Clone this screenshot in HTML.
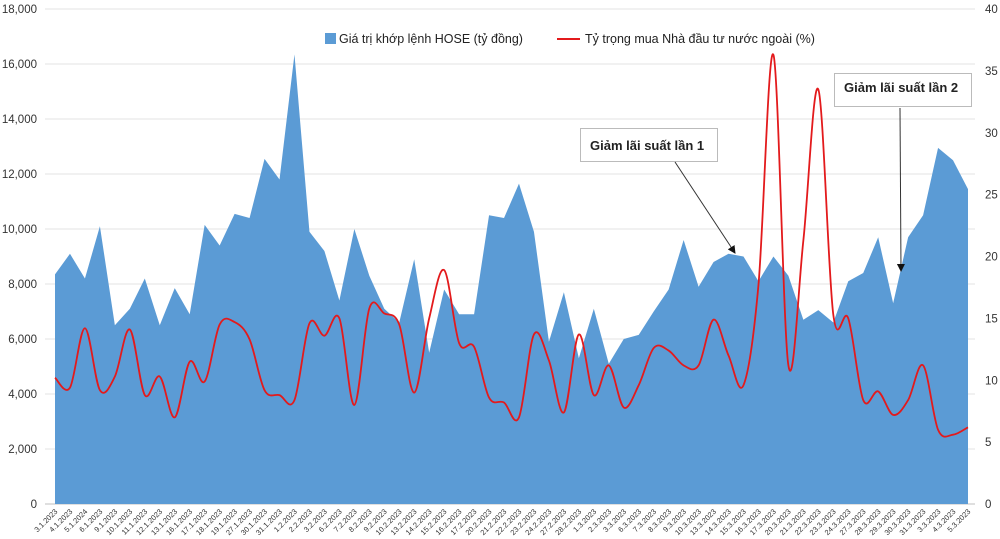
<!DOCTYPE html>
<html><head><meta charset="utf-8"><style>
html,body{margin:0;padding:0;background:#fff;}
svg{display:block;font-family:"Liberation Sans",sans-serif;}
</style></head><body>
<svg id="chart" width="1000" height="539">
<g id="grid"></g>
<g id="area"></g>
<g id="line"></g>
<g id="yl"></g>
<g id="yr"></g>
<g id="xa"></g>
<g>
<rect x="325" y="33" width="11" height="11" fill="#5b9bd5"/>
<text x="339" y="43" font-size="12.5" fill="#222">Giá trị khớp lệnh HOSE (tỷ đồng)</text>
<line x1="557" y1="39" x2="580" y2="39" stroke="#e31a1c" stroke-width="2"/>
<text x="585" y="43" font-size="12.5" fill="#222">Tỷ trọng mua Nhà đầu tư nước ngoài (%)</text>
</g>
<defs><marker id="ah" markerWidth="8" markerHeight="8" refX="7" refY="4" orient="auto"><path d="M0,0 L8,4 L0,8 z" fill="#111"/></marker></defs>
<g>
<rect x="580.5" y="128.5" width="137" height="33" fill="#fff" stroke="#bbb"/>
<text x="590" y="150" font-size="13" font-weight="bold" fill="#222">Giảm lãi suất lần 1</text>
<line x1="675" y1="162" x2="735" y2="253" stroke="#333" stroke-width="1" marker-end="url(#ah)"/>
</g>
<g>
<rect x="834.5" y="73.5" width="137" height="33" fill="#fff" stroke="#bbb"/>
<text x="844" y="92" font-size="13" font-weight="bold" fill="#222">Giảm lãi suất lần 2</text>
<line x1="900" y1="108" x2="901" y2="271" stroke="#333" stroke-width="1" marker-end="url(#ah)"/>
</g>
</svg>
<script>
const categories=["3.1.2023","4.1.2023","5.1.2024","6.1.2023","9.1.2023","10.1.2023","11.1.2023","12.1.2023","13.1.2023","16.1.2023","17.1.2023","18.1.2023","19.1.2023","27.1.2023","30.1.2023","31.1.2023","1.2.2023","2.2.2023","3.2.2023","6.2.2023","7.2.2023","8.2.2023","9.2.2023","10.2.2023","13.2.2023","14.2.2023","15.2.2023","16.2.2023","17.2.2023","20.2.2023","21.2.2023","22.2.2023","23.2.2023","24.2.2023","27.2.2023","28.2.2023","1.3.2023","2.3.2023","3.3.2023","6.3.2023","7.3.2023","8.3.2023","9.3.2023","10.3.2023","13.3.2023","14.3.2023","15.3.2023","16.3.2023","17.3.2023","20.3.2023","21.3.2023","22.3.2023","23.3.2023","24.3.2023","27.3.2023","28.3.2023","29.3.2023","30.3.2023","31.3.2023","3.3.2023","4.3.2023","5.3.2023"];
const hoseValues=[8350,9100,8200,10100,6500,7100,8200,6500,7850,6900,10150,9400,10550,10400,12550,11800,16350,9900,9200,7400,10000,8300,7100,6600,8900,5500,7800,6900,6900,10500,10400,11650,9900,5900,7700,5300,7100,5100,6000,6150,7000,7800,9600,7900,8800,9100,9000,8100,9000,8300,6700,7050,6600,8100,8400,9700,7300,9700,10500,12950,12500,11450];
const foreignRatio=[10.2,9.4,14.2,9.2,10.3,14.1,8.8,10.3,7.0,11.5,9.9,14.5,14.7,13.3,9.2,8.8,8.4,14.6,13.6,15.0,8.0,15.8,15.4,14.5,9.0,15.0,18.9,13.0,12.7,8.6,8.2,7.0,13.7,11.6,7.4,13.7,8.8,11.2,7.8,9.6,12.6,12.4,11.2,11.2,14.9,12.0,9.6,17.7,36.3,11.2,21.3,33.5,15.3,15.0,8.4,9.1,7.2,8.4,11.2,6.0,5.6,6.2];
const leftTicks=[0,2000,4000,6000,8000,10000,12000,14000,16000,18000];
const rightTicks=[0,5,10,15,20,25,30,35,40];
const NS="http://www.w3.org/2000/svg";
const X0=55,X1=968,Y0=504,Y1=9;
const x=i=>X0+i*(X1-X0)/(categories.length-1);
const yL=v=>Y0-(v/18000)*(Y0-Y1);
const yR=v=>Y0-(v/40)*(Y0-Y1);
function mk(tag,parent,attrs){const e=document.createElementNS(NS,tag);for(const k in attrs)e.setAttribute(k,attrs[k]);parent.appendChild(e);return e;}
const grid=document.getElementById('grid'),yl=document.getElementById('yl'),yr=document.getElementById('yr'),xa=document.getElementById('xa');
leftTicks.forEach(t=>{
  const g=mk('line',grid,{x1:45,x2:975,y1:yL(t),y2:yL(t),stroke:t===0?'#bfbfbf':'#e3e3e3','stroke-width':1});
  
  
  const tx=mk('text',yl,{x:37,y:yL(t)+4,'text-anchor':'end','font-size':11.5,fill:'#333'});
  tx.textContent=t.toLocaleString('en-US');
  
  
});
rightTicks.forEach(t=>{
  const tx=mk('text',yr,{x:985,y:yR(t)+4,'font-size':11.5,fill:'#333'});
  tx.textContent=t;
  
  
});
let d='M'+x(0)+','+Y0;
hoseValues.forEach((v,i)=>{d+=' L'+x(i)+','+yL(v);});
d+=' L'+x(hoseValues.length-1)+','+Y0+' Z';
const a=mk('path',document.getElementById('area'),{d:d,fill:'#5b9bd5'});


const pts=foreignRatio.map((v,i)=>[x(i),yR(v)]);
let ld='M'+pts[0][0]+','+pts[0][1];
for(let i=0;i<pts.length-1;i++){
  const p0=pts[Math.max(0,i-1)],p1=pts[i],p2=pts[i+1],p3=pts[Math.min(pts.length-1,i+2)];
  const c1=[p1[0]+(p2[0]-p0[0])/6,p1[1]+(p2[1]-p0[1])/6];
  const c2=[p2[0]-(p3[0]-p1[0])/6,p2[1]-(p3[1]-p1[1])/6];
  ld+=' C'+c1[0]+','+c1[1]+' '+c2[0]+','+c2[1]+' '+p2[0]+','+p2[1];
}
const l=mk('path',document.getElementById('line'),{d:ld,fill:'none',stroke:'#e31a1c','stroke-width':1.8});


categories.forEach((c,i)=>{
  const tx=mk('text',xa,{x:x(i)+3,y:512,'text-anchor':'end','font-size':7.5,fill:'#333',transform:'rotate(-45 '+(x(i)+3)+' 512)'});
  tx.textContent=c;
  
  
});
</script>
</body></html>
